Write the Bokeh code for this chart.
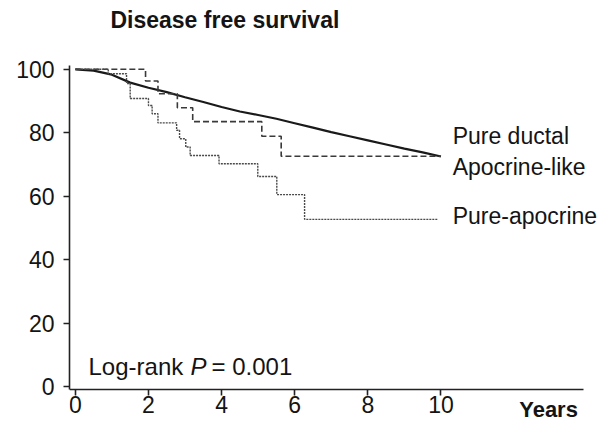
from bokeh.plotting import figure
from bokeh.models import Range1d, FixedTicker, Label, LabelSet, ColumnDataSource
from bokeh.core.properties import value
from bokeh.embed import file_html
from bokeh.resources import INLINE

# ---- data ----
ductal_t = [0, 0.5, 1, 1.5, 2, 2.5, 3, 3.5, 4, 4.5, 5, 5.5, 6, 6.5, 7, 7.5, 8, 8.5, 9, 9.5, 10]
ductal_s = [100, 99.6, 98.3, 95.8, 94.2, 92.8, 91.2, 89.7, 88.1, 86.7, 85.6, 84.4, 83.0, 81.6,
            80.2, 78.9, 77.6, 76.3, 75.0, 73.8, 72.5]

aplike_t = [0, 1.92, 2.26, 2.79, 3.21, 5.10, 5.63, 10]
aplike_s = [100, 96.3, 92.3, 87.9, 83.5, 78.9, 72.6, 72.6]

pureap_t = [0, 0.9, 1.4, 1.5, 2.0, 2.1, 2.26, 2.77, 2.85, 3.02, 3.14, 3.93, 4.99, 5.51, 6.27, 9.9]
pureap_s = [100, 98.6, 95.5, 90.8, 88.6, 86.0, 83.1, 80.8, 78.1, 75.5, 72.8, 70.2, 66.2, 60.5, 52.7, 52.7]

series_names = ["Pure ductal", "Apocrine-like", "Pure-apocrine"]
label_x = [10.32, 10.32, 10.32]
label_y = [76.6, 66.6, 51.3]

x_ticks = [0, 2, 4, 6, 8, 10]
y_ticks = [0, 20, 40, 60, 80, 100]

title_text = "Disease free survival"
x_title = "Years"

FONT = "Liberation Sans"
TXT = "#141414"

X_AXIS_LO, X_AXIS_HI = -0.16, 13.9
Y_AXIS_LO, Y_AXIS_HI = -0.95, 101.2

p = figure(frame_width=531, frame_height=421,
           x_range=Range1d(X_AXIS_LO, 14.364), y_range=Range1d(-11.04, 121.69),
           output_backend="svg", toolbar_location=None,
           min_border_left=69, min_border_top=0, min_border_right=0, min_border_bottom=0)

p.title.visible = False
p.xgrid.visible = False
p.ygrid.visible = False
p.outline_line_color = None
p.background_fill_color = "white"
p.border_fill_color = "white"

for ax in (p.xaxis[0], p.yaxis[0]):
    ax.axis_line_width = 1.6
    ax.axis_line_color = "#222222"
    ax.major_tick_line_width = 1.6
    ax.major_tick_line_color = "#222222"
    ax.minor_tick_line_color = None
    ax.major_tick_in = 0
    ax.major_label_text_font = FONT
    ax.major_label_text_font_size = "23px"
    ax.major_label_text_color = TXT

p.xaxis.ticker = FixedTicker(ticks=x_ticks)
p.yaxis.ticker = FixedTicker(ticks=y_ticks)
p.xaxis.bounds = (X_AXIS_LO, X_AXIS_HI)
p.yaxis.bounds = (Y_AXIS_LO, Y_AXIS_HI)
p.xaxis.fixed_location = Y_AXIS_LO
p.xaxis.major_tick_out = 6
p.yaxis.major_tick_out = 6
p.xaxis.major_label_standoff = 1
p.yaxis.major_label_standoff = 9

# ---- curves ----
p.line(ductal_t, ductal_s, line_color="#1a1a1a", line_width=2.2)
p.step(aplike_t, aplike_s, mode="after", line_color="#3a3a3a", line_width=1.6, line_dash="6 3")
p.step(pureap_t, pureap_s, mode="after", line_color="#4a4a4a", line_width=1.4, line_dash="2 1")

# ---- series labels ----
src = ColumnDataSource(dict(x=label_x, y=label_y, t=series_names))
p.add_layout(LabelSet(x="x", y="y", text="t", source=src, text_font=value(FONT),
                      text_font_size=value("23px"), text_color=TXT, text_baseline="alphabetic"))

# ---- log-rank annotation ----
common = dict(x=0.36, y=6.3, text_font=FONT, text_font_size="24px", text_color=TXT,
              text_baseline="alphabetic")
p.add_layout(Label(text="Log-rank", **common))
p.add_layout(Label(text="P", x_offset=102, text_font_style="italic", **common))
p.add_layout(Label(text="= 0.001", x_offset=123, **common))

# ---- chart title and axis title ----
p.add_layout(Label(x=0.96, y=115.6, text=title_text, text_font=FONT, text_font_size="23px",
                   text_font_style="bold", text_color=TXT, text_baseline="alphabetic"))
p.add_layout(Label(x=12.14, y=-7.2, text=x_title, text_font=FONT, text_font_size="22px",
                   text_font_style="bold", text_color=TXT, text_baseline="alphabetic"))

open("out.html", "w").write(file_html(p, INLINE))
